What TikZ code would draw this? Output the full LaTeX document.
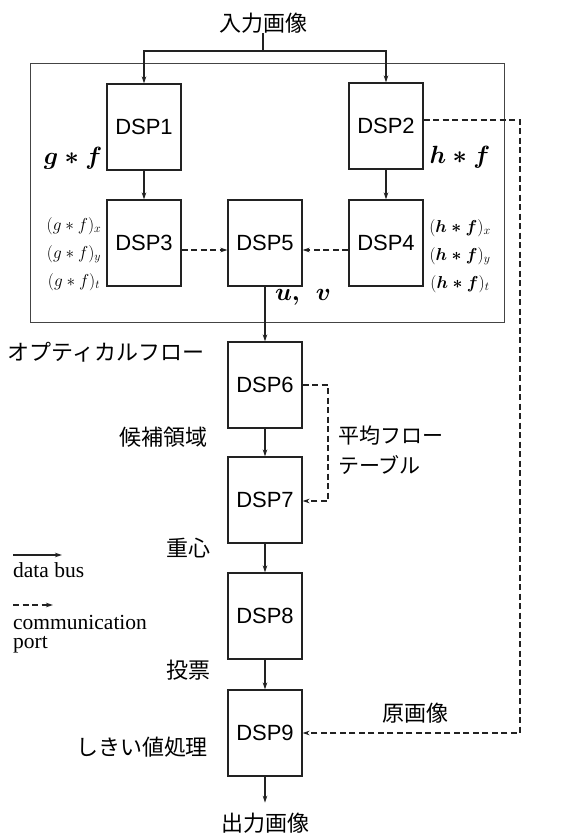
\documentclass[tikz,border=0pt]{standalone}
\usepackage{fontspec}
\usepackage{amsmath}
\usepackage{amssymb}
\usepackage{tikz}
\usetikzlibrary{arrows.meta,calc}
\setmainfont{Liberation Serif}
\setsansfont{Liberation Sans}
\newfontfamily\jpfont{Noto Sans CJK JP}
\definecolor{koyuCizgi}{HTML}{222222}
\definecolor{cerceveGri}{HTML}{444444}

\begin{document}
\begin{tikzpicture}[x=1pt,y=-1pt,
  dsp/.style={draw=koyuCizgi,line width=1.1pt,minimum width=74pt,minimum height=86pt,inner sep=0pt,font=\sffamily\fontsize{22}{24}\selectfont},
  bus/.style={draw=koyuCizgi,line width=1.4pt,-{Stealth[length=7pt,width=4.5pt]}},
  port/.style={bus,dash pattern=on 6pt off 3.5pt},
  jp/.style={font=\jpfont\fontsize{22}{27}\selectfont,inner sep=0pt},
  formula/.style={font=\fontsize{23}{24}\selectfont,inner sep=0pt},
  legend/.style={font=\rmfamily\fontsize{21.5}{22}\selectfont,inner sep=0pt,anchor=west}]
\useasboundingbox (0,0) rectangle (562,839);
\draw[cerceveGri,line width=0.9pt] (30,63) rectangle (504,322);
\node[jp] (giris) at (263,23) {入力画像};
\node[dsp] (d1) at (144,127) {DSP1};
\node[dsp] (d2) at (386,126) {DSP2};
\node[dsp] (d3) at (144,243) {DSP3};
\node[dsp] (d5) at (265,243) {DSP5};
\node[dsp] (d4) at (386,243) {DSP4};
\node[dsp] (d6) at (265,385) {DSP6};
\node[dsp] (d7) at (265,500) {DSP7};
\node[dsp] (d8) at (265,616) {DSP8};
\node[dsp] (d9) at (265,733) {DSP9};
\node[jp] (cikis) at (265,823) {出力画像};
% veri yolu
\coordinate (ayrim) at (263,51);
\draw[koyuCizgi,line width=1.4pt] (giris) -- (ayrim);
\draw[bus] (ayrim) -| (d1);
\draw[bus] (ayrim) -| (d2);
\draw[bus] (d1) -- (d3);
\draw[bus] (d2) -- (d4);
\draw[port] ([yshift=-7pt]d3.east) -- ([yshift=-7pt]d5.west);
\draw[port] ([yshift=-7pt]d4.west) -- ([yshift=-7pt]d5.east);
\draw[bus] (d5) -- (d6);
\draw[bus] (d6) -- (d7);
\draw[bus] (d7) -- (d8);
\draw[bus] (d8) -- (d9);
\draw[bus,shorten >=10pt] (d9) -- (cikis);
% iletisim portlari
\coordinate (orta1) at (328,385);
\coordinate (orta2) at (328,501);
\draw[port] (d6.east) -- (orta1) -- (orta2) -- (d7.east |- orta2);
\coordinate (sag1) at (520,120);
\coordinate (sag2) at (520,733);
\draw[port] (d2.east |- sag1) -- (sag1) -- (sag2) -- (d9.east);
% etiketler
\node[formula] (gf) at (73,158) {$\boldsymbol{g*f}$};
\node[formula] (hf) at (460,157) {$\boldsymbol{h*f}$};
\node[formula,font=\fontsize{18}{28}\selectfont,align=center] (gfd) at (74,254) {$(g*f)_x$\\$(g*f)_y$\\$(g*f)_t$};
\node[formula,font=\fontsize{18}{28}\selectfont,align=center] (hfd) at (460,256) {$(\boldsymbol{h*f})_x$\\$(\boldsymbol{h*f})_y$\\$(\boldsymbol{h*f})_t$};
\node[formula,font=\fontsize{26}{28}\selectfont] (uv) at (303,297) {$\boldsymbol{u,\ \,v}$};
\node[jp] (optik) at (106,352) {オプティカルフロー};
\node[jp] (aday) at (163,437) {候補領域};
\node[jp,align=left,anchor=west,font=\jpfont\fontsize{21}{30}\selectfont] (tablo) at (338,450) {平均フロー\\テーブル};
\node[jp] (merkez) at (188,548) {重心};
\node[jp] (oy) at (188,670) {投票};
\node[jp] (esik) at (142,747) {しきい値処理};
\node[jp] (orijinal) at (415,713) {原画像};
% gosterim
\coordinate (lg1) at (13,555);
\coordinate (lg2) at (62,555);
\draw[bus] (lg1) -- (lg2);
\node[legend] (lgv) at (13,570) {data bus};
\coordinate (lg3) at (13,605);
\coordinate (lg4) at (53,605);
\draw[port] (lg3) -- (lg4);
\node[legend] (lgk) at (13,622) {communication};
\node[legend] (lgp) at (13,645) {port};
\end{tikzpicture}
\end{document}
